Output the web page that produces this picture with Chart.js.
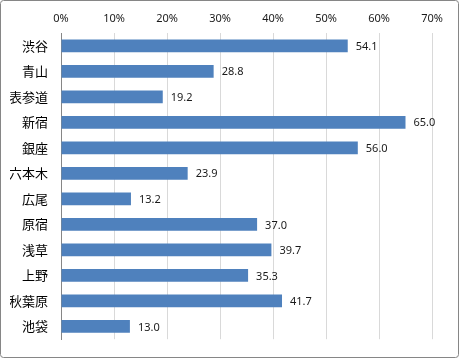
<!DOCTYPE html>
<html>
<head>
<meta charset="utf-8">
<script src="https://cdn.jsdelivr.net/npm/chart.js@4"></script>
<style>
  html, body { margin: 0; padding: 0; background: #fff; }
  #wrap { width: 460px; height: 360px; }
</style>
</head>
<body>
<div id="wrap"><canvas id="areaChart" width="460" height="360"></canvas></div>
<script>
// 地域別の割合 (%)
const areas = ["渋谷", "青山", "表参道", "新宿", "銀座", "六本木", "広尾", "原宿", "浅草", "上野", "秋葉原", "池袋"];
const shares = [54.1, 28.8, 19.2, 65.0, 56.0, 23.9, 13.2, 37.0, 39.7, 35.3, 41.7, 13.0];
const tickSteps = [0, 10, 20, 30, 40, 50, 60, 70];

// outer frame
const frame = {
    id: "frame",
    beforeDraw(chart) {
        const ctx = chart.ctx;
        ctx.save();
        ctx.fillStyle = "#fff";
        ctx.fillRect(0, 0, chart.width, chart.height);
        ctx.strokeStyle = "#868686";
        ctx.lineWidth = 1;
        ctx.beginPath();
        ctx.roundRect(0.5, 0.5, chart.width - 2, chart.height - 3, 3);
        ctx.stroke();
        ctx.restore();
    }
};

// value labels at bar ends
const valueLabels = {
    id: "valueLabels",
    afterDatasetsDraw(chart) {
        const ctx = chart.ctx;
        const meta = chart.getDatasetMeta(0);
        ctx.save();
        ctx.font = "11px 'Noto Sans'";
        ctx.fillStyle = "#1a1a1a";
        ctx.textAlign = "left";
        ctx.textBaseline = "middle";
        meta.data.forEach((bar, i) => {
            ctx.fillText(shares[i].toFixed(1), bar.x + 8, bar.y + 1);
        });
        ctx.restore();
    }
};

new Chart(document.getElementById("areaChart"), {
    type: "bar",
    data: {
        labels: areas,
        datasets: [{
            data: shares,
            backgroundColor: "#4f81bd",
            categoryPercentage: 0.5,
            barPercentage: 1.0
        }]
    },
    options: {
        indexAxis: "y",
        responsive: false,
        animation: false,
        layout: { padding: { left: 10, right: 28, top: 8, bottom: 17 } },
        plugins: { legend: { display: false }, tooltip: { enabled: false } },
        scales: {
            x: {
                position: "top",
                min: 0,
                max: 70,
                afterBuildTicks(scale) {
                    scale.ticks = tickSteps.map(v => ({ value: v }));
                },
                afterFit(scale) { scale.height = 25; },
                grid: { color: "#d9d9d9", drawTicks: false },
                border: { display: false },
                ticks: {
                    padding: 8,
                    color: "#1a1a1a",
                    font: { family: "'Noto Sans'", size: 11 },
                    callback: v => v + "%"
                }
            },
            y: {
                afterFit(scale) { scale.width = 51; },
                grid: { display: false, drawTicks: false },
                border: { display: true, color: "#868686" },
                ticks: {
                    padding: 13,
                    color: "#000",
                    font: { family: "'Noto Sans CJK JP'", size: 13 }
                }
            }
        }
    },
    plugins: [frame, valueLabels]
});
</script>
</body>
</html>
